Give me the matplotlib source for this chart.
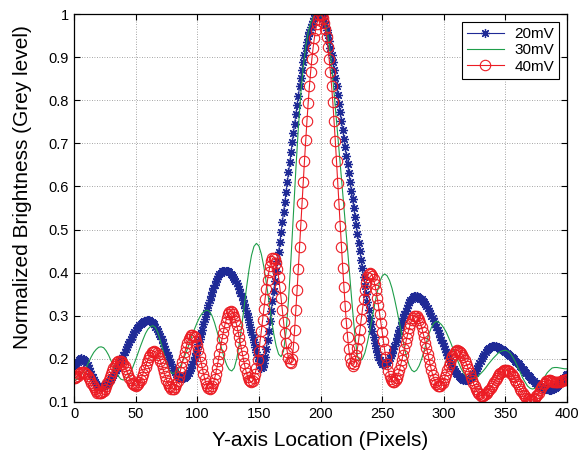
import numpy as np
import matplotlib
matplotlib.use("Agg")
import matplotlib.pyplot as plt

plt.rcParams['font.family'] = ['Liberation Sans', 'DejaVu Sans']

# sample positions (pixels along the Y axis of the image)
x_px = np.arange(0, 401)
x_green = np.arange(0, 401, 2)

# 20mV, one value per pixel
b20 = [
    0.185, 0.186, 0.189, 0.193, 0.197, 0.200, 0.201,
    0.200, 0.198, 0.195, 0.190, 0.185, 0.178, 0.171, 0.165, 0.158, 0.152, 0.146, 0.141, 0.138, 0.136, 0.135,
    0.135, 0.136, 0.137, 0.139, 0.141, 0.144, 0.147, 0.151, 0.154, 0.159, 0.163, 0.168, 0.174, 0.179, 0.185,
    0.191, 0.197, 0.203, 0.209, 0.216, 0.222, 0.228, 0.234, 0.240, 0.246, 0.251, 0.257, 0.262, 0.266, 0.271,
    0.275, 0.278, 0.281, 0.284, 0.286, 0.288, 0.289, 0.290, 0.290,
    0.290, 0.288, 0.286, 0.283, 0.280, 0.275, 0.270, 0.265, 0.258, 0.252, 0.245, 0.238, 0.230, 0.223, 0.215,
    0.208, 0.200, 0.193, 0.187, 0.180, 0.175, 0.170, 0.165, 0.162, 0.159, 0.157, 0.155, 0.155,
    0.156, 0.157, 0.160, 0.163, 0.168, 0.174, 0.180, 0.188, 0.196, 0.205, 0.214, 0.224, 0.235, 0.246, 0.257,
    0.268, 0.280, 0.292, 0.303, 0.314, 0.325, 0.336, 0.346, 0.355, 0.364, 0.372, 0.380, 0.386, 0.392, 0.397,
    0.400, 0.403, 0.404, 0.405,
    0.405, 0.404, 0.403, 0.401, 0.398, 0.395, 0.391, 0.386, 0.381, 0.375, 0.368, 0.361, 0.353, 0.345, 0.336,
    0.327, 0.317, 0.307, 0.297, 0.286, 0.275, 0.263, 0.251, 0.239, 0.227, 0.215, 0.204, 0.194, 0.185, 0.178,
    0.181, 0.190, 0.204, 0.222, 0.243, 0.265, 0.288, 0.311, 0.334, 0.357, 0.380, 0.403, 0.426, 0.449, 0.472,
    0.495, 0.518, 0.541, 0.564, 0.587, 0.610, 0.633, 0.656, 0.679, 0.702, 0.724, 0.746, 0.768, 0.790, 0.811,
    0.832, 0.852, 0.871, 0.889, 0.906, 0.921, 0.935, 0.948, 0.959, 0.969, 0.978, 0.985, 0.991, 0.995, 0.998,
    1.000, 1.000, 0.998,
    0.995, 0.990, 0.983, 0.974, 0.963, 0.951, 0.937, 0.922, 0.906, 0.889, 0.871, 0.852, 0.832,
    0.812, 0.792, 0.772, 0.752, 0.731, 0.711, 0.691, 0.671, 0.651, 0.631, 0.610, 0.590, 0.570, 0.550, 0.530,
    0.510, 0.490, 0.470, 0.450, 0.430, 0.410, 0.390, 0.370, 0.350, 0.331, 0.313, 0.296, 0.280, 0.265, 0.251,
    0.238, 0.226, 0.215, 0.205, 0.198, 0.192, 0.189, 0.188,
    0.189, 0.190, 0.193, 0.197, 0.202, 0.208, 0.214, 0.222, 0.230, 0.239, 0.248, 0.257, 0.267, 0.276, 0.285,
    0.294, 0.303, 0.311, 0.319, 0.325, 0.331, 0.336, 0.340, 0.343, 0.345, 0.345,
    0.345, 0.344, 0.342, 0.340, 0.338, 0.335, 0.331, 0.327, 0.323, 0.318, 0.312, 0.307, 0.300, 0.294, 0.287,
    0.280, 0.273, 0.266, 0.259, 0.251, 0.244, 0.236, 0.229, 0.222, 0.215, 0.208, 0.201, 0.195, 0.189, 0.183,
    0.177, 0.172, 0.168, 0.164, 0.160, 0.157, 0.155, 0.153, 0.152, 0.150, 0.150,
    0.150, 0.152, 0.154, 0.156, 0.160, 0.164, 0.168, 0.173, 0.179, 0.184, 0.190, 0.196, 0.201, 0.207, 0.212,
    0.216, 0.220, 0.224, 0.226, 0.228, 0.230, 0.230,
    0.230, 0.229, 0.228, 0.227, 0.226, 0.224, 0.222, 0.220, 0.218, 0.216, 0.214, 0.211, 0.209, 0.206, 0.204,
    0.201, 0.199, 0.196, 0.193, 0.190, 0.187, 0.184, 0.181, 0.177, 0.174, 0.170, 0.167, 0.163, 0.160, 0.157,
    0.154, 0.151, 0.148, 0.145, 0.143, 0.141, 0.139, 0.137, 0.135, 0.133, 0.132, 0.131, 0.130, 0.129, 0.128,
    0.128, 0.128, 0.129, 0.130, 0.132, 0.134, 0.137, 0.140, 0.143, 0.147, 0.151, 0.155, 0.159, 0.163, 0.166,
]

# 40mV, one value per pixel
r40 = [
    0.155, 0.156, 0.158, 0.161, 0.164, 0.167, 0.169, 0.170,
    0.169, 0.168, 0.165, 0.161, 0.156, 0.151, 0.145, 0.139, 0.134, 0.129, 0.125, 0.122, 0.121, 0.120,
    0.121, 0.123, 0.126, 0.131, 0.137, 0.143, 0.150, 0.158, 0.165, 0.172, 0.178, 0.184, 0.189, 0.192, 0.194, 0.195,
    0.194, 0.192, 0.188, 0.183, 0.177, 0.170, 0.163, 0.156, 0.150, 0.145, 0.141, 0.139, 0.138,
    0.139, 0.141, 0.146, 0.151, 0.158, 0.166, 0.174, 0.182, 0.190, 0.198, 0.205, 0.210, 0.215, 0.217, 0.218,
    0.217, 0.214, 0.210, 0.203, 0.196, 0.188, 0.179, 0.169, 0.160, 0.152, 0.145, 0.138, 0.134, 0.131, 0.130,
    0.131, 0.135, 0.141, 0.148, 0.158, 0.169, 0.181, 0.193, 0.205, 0.217, 0.228, 0.238, 0.245, 0.251, 0.255, 0.256,
    0.254, 0.250, 0.242, 0.232, 0.220, 0.207, 0.193, 0.179, 0.166, 0.154, 0.144, 0.136, 0.132, 0.130,
    0.132, 0.136, 0.144, 0.154, 0.166, 0.180, 0.195, 0.212, 0.228, 0.245, 0.260, 0.274, 0.286, 0.296, 0.304,
    0.308, 0.310,
    0.309, 0.304, 0.298, 0.289, 0.278, 0.265, 0.250, 0.236, 0.220, 0.206, 0.191, 0.178, 0.167, 0.158, 0.152,
    0.148, 0.146,
    0.148, 0.155, 0.165, 0.180, 0.198, 0.218, 0.241, 0.265, 0.290, 0.316, 0.340, 0.363, 0.383, 0.401, 0.416,
    0.426, 0.433, 0.435,
    0.432, 0.423, 0.408, 0.389, 0.366, 0.341, 0.313, 0.285, 0.259, 0.236, 0.217, 0.202, 0.193, 0.190,
    0.200, 0.228, 0.268, 0.313, 0.360, 0.409, 0.459, 0.510, 0.561, 0.611, 0.660, 0.707, 0.752, 0.794, 0.832,
    0.866, 0.896, 0.922, 0.944, 0.962, 0.977, 0.989, 0.997, 1.000,
    0.998, 0.991, 0.980, 0.965, 0.946, 0.923, 0.896, 0.866, 0.833, 0.795, 0.752, 0.706, 0.658, 0.609, 0.559,
    0.509, 0.460, 0.412, 0.366, 0.323, 0.284, 0.250, 0.222, 0.202, 0.190, 0.184,
    0.187, 0.195, 0.208, 0.225, 0.245, 0.268, 0.292, 0.316, 0.339, 0.359, 0.377, 0.389, 0.397, 0.400,
    0.398, 0.393, 0.385, 0.373, 0.359, 0.342, 0.324, 0.304, 0.283, 0.263, 0.242, 0.222, 0.204, 0.187, 0.173,
    0.161, 0.153, 0.148, 0.146,
    0.147, 0.151, 0.156, 0.164, 0.174, 0.185, 0.197, 0.210, 0.223, 0.236, 0.249, 0.261, 0.272, 0.282, 0.290,
    0.295, 0.299, 0.300,
    0.299, 0.296, 0.290, 0.283, 0.274, 0.263, 0.251, 0.238, 0.225, 0.212, 0.199, 0.186, 0.174, 0.163, 0.154,
    0.147, 0.141, 0.138, 0.137,
    0.138, 0.141, 0.145, 0.151, 0.158, 0.166, 0.174, 0.183, 0.191, 0.199, 0.206, 0.212, 0.216, 0.219, 0.220,
    0.219, 0.217, 0.214, 0.210, 0.205, 0.198, 0.191, 0.184, 0.176, 0.168, 0.159, 0.151, 0.144, 0.137, 0.130,
    0.125, 0.121, 0.118, 0.115, 0.115,
    0.115, 0.117, 0.119, 0.121, 0.125, 0.128, 0.133, 0.137, 0.142, 0.147, 0.152, 0.156, 0.161, 0.164, 0.168,
    0.170, 0.172, 0.174, 0.174,
    0.174, 0.172, 0.171, 0.168, 0.165, 0.161, 0.157, 0.152, 0.147, 0.142, 0.136, 0.131, 0.126, 0.122, 0.117,
    0.113, 0.110, 0.107, 0.106, 0.104, 0.104,
    0.105, 0.106, 0.109, 0.113, 0.117, 0.122, 0.127, 0.132, 0.137, 0.141, 0.145, 0.148, 0.149, 0.150, 0.150,
    0.149, 0.148, 0.147, 0.146, 0.146, 0.146, 0.146, 0.147, 0.148, 0.149, 0.150, 0.151, 0.152, 0.153,
]

# 30mV, every second pixel
g30 = [
    0.150, 0.152, 0.156, 0.163, 0.171, 0.181, 0.193, 0.205, 0.215, 0.222, 0.227, 0.228,
    0.226, 0.219, 0.209, 0.196, 0.183, 0.170, 0.160, 0.153, 0.151,
    0.153, 0.159, 0.169, 0.183, 0.198, 0.214, 0.230, 0.245, 0.259, 0.269, 0.275, 0.277,
    0.273, 0.261, 0.243, 0.222, 0.200, 0.182, 0.170, 0.166,
    0.168, 0.173, 0.182, 0.194, 0.208, 0.223, 0.240, 0.256, 0.271, 0.285, 0.297, 0.306, 0.311, 0.313,
    0.310, 0.300, 0.284, 0.264, 0.243, 0.221, 0.201, 0.185, 0.175, 0.172,
    0.179, 0.200, 0.233, 0.274, 0.320, 0.366, 0.407, 0.440, 0.461, 0.468,
    0.462, 0.443, 0.414, 0.377, 0.337, 0.296, 0.259, 0.230, 0.211, 0.205,
    0.218, 0.262, 0.335, 0.430, 0.535, 0.640, 0.735, 0.815, 0.878, 0.925, 0.958, 0.980, 0.993, 0.999, 1.000,
    0.998, 0.990, 0.975, 0.950, 0.908, 0.850, 0.785, 0.718, 0.652, 0.586, 0.520, 0.452, 0.383, 0.314, 0.252,
    0.205, 0.195,
    0.200, 0.214, 0.237, 0.265, 0.296, 0.327, 0.355, 0.378, 0.392, 0.397,
    0.393, 0.382, 0.364, 0.340, 0.313, 0.284, 0.254, 0.227, 0.203, 0.185, 0.174, 0.170,
    0.174, 0.184, 0.199, 0.218, 0.239, 0.258, 0.273, 0.283, 0.287,
    0.285, 0.280, 0.272, 0.262, 0.249, 0.235, 0.220, 0.205, 0.191, 0.178, 0.168, 0.160, 0.155, 0.153,
    0.154, 0.156, 0.160, 0.166, 0.172, 0.179, 0.187, 0.194, 0.201, 0.207, 0.213, 0.217, 0.219, 0.220,
    0.218, 0.213, 0.204, 0.194, 0.181, 0.169, 0.156, 0.146, 0.137, 0.132, 0.130,
    0.132, 0.136, 0.143, 0.151, 0.159, 0.168, 0.174, 0.179, 0.180, 0.180, 0.179, 0.178, 0.177, 0.177,
]

x_ticks = [0, 50, 100, 150, 200, 250, 300, 350, 400]
y_ticks = [0.1, 0.2, 0.3, 0.4, 0.5, 0.6, 0.7, 0.8, 0.9, 1.0]
y_tick_labels = ['0.1', '0.2', '0.3', '0.4', '0.5', '0.6', '0.7', '0.8', '0.9', '1']

fig = plt.figure(figsize=(5.81, 4.53), dpi=100)
fig.subplots_adjust(left=0.1274, right=0.9759, top=0.969, bottom=0.1126)
ax = fig.add_subplot(111)

ax.plot(x_px, b20, color='#1f2a96', lw=0.8, marker=(8, 2, 0), markersize=6.5,
        markeredgewidth=0.9, label='20mV')
ax.plot(x_green, g30, color='#1f9e4a', lw=0.8, label='30mV')
ax.plot(x_px, r40, color='#ec1c24', lw=0.8, marker='o', markersize=7.5,
        markerfacecolor='none', markeredgewidth=0.8, label='40mV')

ax.set_xlim(0, 400)
ax.set_ylim(0.1, 1.0)
ax.set_xticks(x_ticks)
ax.set_yticks(y_ticks)
ax.set_yticklabels(y_tick_labels)
ax.tick_params(direction='in', top=True, right=True, length=4, width=0.8, labelsize=10.5)
ax.grid(True, linestyle=(0, (1, 2)), color='#888888', linewidth=0.6)
for s in ax.spines.values():
    s.set_linewidth(0.9)

ax.set_xlabel('Y-axis Location (Pixels)', fontsize=15, labelpad=7)
ax.set_ylabel('Normalized Brightness (Grey level)', fontsize=15)
ax.yaxis.set_label_coords(-0.085, 0.555)

leg = ax.legend(loc='upper right', fontsize=11, fancybox=False, edgecolor='black',
                framealpha=1, handlelength=2.4, labelspacing=0.15, borderpad=0.35,
                handletextpad=0.7, borderaxespad=0.5, numpoints=1)
leg.get_frame().set_linewidth(0.8)

fig.savefig('out.png', dpi=100)
